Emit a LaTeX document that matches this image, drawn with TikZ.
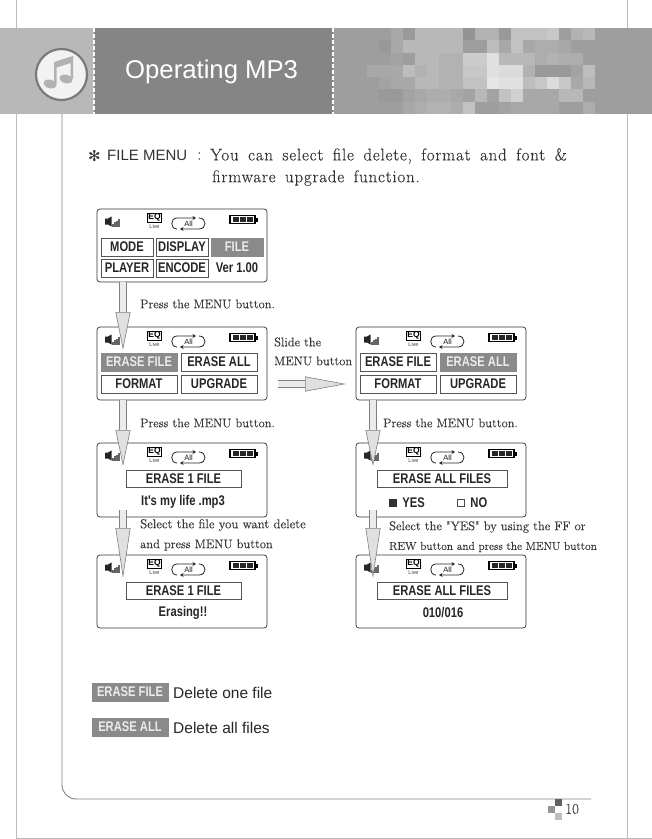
\documentclass[tikz,border=0pt]{standalone}
\usepackage{xcolor}
\usepackage{fontspec}
\setsansfont{Liberation Sans}
\newfontfamily\lcdfont[FakeStretch=0.8]{Liberation Sans}
\newfontfamily\hintfont[FakeBold=0.15]{Latin Modern Roman}
\newfontfamily\introfont[LetterSpace=4.5,WordSpace=1.6,FakeBold=0.15]{Latin Modern Roman}
\newfontfamily\symfont{DejaVu Sans}
\definecolor{lcdline}{HTML}{333333}
\definecolor{lcdbtnline}{HTML}{555555}
\definecolor{lcdsel}{HTML}{8A8A8A}
\definecolor{pageline}{HTML}{BBBBBB}
\usetikzlibrary{arrows.meta,positioning}
\tikzset{
  lcdscreen/.style={draw=lcdline,line width=.7pt,rounded corners=3pt,fill=white,inner sep=0pt,outer sep=0pt,minimum width=170pt,minimum height=73pt},
  lcdbtn/.style={draw=lcdbtnline,line width=.8pt,inner sep=0pt,outer sep=0pt,minimum width=52pt,minimum height=18pt,text=black!85,font=\lcdfont\bfseries\fontsize{14}{14}\selectfont},
  lcdwide/.style={lcdbtn,minimum width=76pt},
  lcdbar/.style={lcdbtn,minimum width=115pt,minimum height=17pt},
  lcdselected/.style={fill=lcdsel,draw=lcdsel,text=white!92!black},
  lcdtext/.style={inner sep=0pt,text=black!85,font=\lcdfont\bfseries\fontsize{14}{14}\selectfont},
  hintlabel/.style={inner sep=0pt,anchor=west,text=black!78,font=\hintfont\fontsize{12.5}{12.5}\selectfont},
  introlabel/.style={inner sep=0pt,anchor=west,text=black!80,font=\introfont\fontsize{17}{17}\selectfont},
  lcdflow/.style={double=black!8,double distance=6pt,draw=black!50,line width=.6pt,-{Triangle[open,length=#1,width=15pt,fill=black!12]}},
  lcdflow/.default=38pt,
  lcdstatus/.pic={
    % speaker and level bars
    \fill[black!85] (8,9.5) -- (11,9.5) -- (14.5,7.5) -- (14.5,17.5) -- (11,15.5) -- (8,15.5) -- cycle;
    \foreach \barx/\bartop in {16/14.5,18/13,20/11.5,22/10}
      \draw[black!60,line width=1.3pt] (\barx,17.5) -- (\barx,\bartop);
    % equalizer sign
    \node[draw=black,line width=.7pt,inner sep=.6pt,font=\sffamily\bfseries\fontsize{8.5}{8.5}\selectfont] (-eq) at (57.5,8.5) {EQ};
    \node[inner sep=0pt,text=black!75,font=\sffamily\fontsize{5.5}{5.5}\selectfont] (-live) at (57.5,18) {Live};
    % repeat loop
    \draw[black!85,line width=.8pt,-{Stealth[length=3.5pt,width=4pt]}] (80,20) .. controls (73,20) and (73,9) .. (80,9) -- (99,9);
    \draw[black!85,line width=.8pt,-{Stealth[length=3.5pt,width=4pt]}] (102,9) .. controls (110,9) and (110,20) .. (102,20) -- (83,20);
    \node[inner sep=0pt,text=black!90,font=\sffamily\fontsize{7.5}{7.5}\selectfont] (-loop) at (91.5,14.5) {All};
    % battery
    \draw[black,line width=1.4pt,fill=white] (133,6.5) rectangle (158,14.5);
    \fill[black] (158,8.5) rectangle (161,12.5);
    \foreach \cellx in {135.5,142.5,149.5}
      \fill[black!85] (\cellx,8) rectangle ++(6,5);
  }
}

\begin{document}
\begin{tikzpicture}[x=1pt,y=-1pt]
\useasboundingbox (0,0) rectangle (652,839);
\fill[white] (0,0) rectangle (652,839);
% page frame
\draw[pageline,line width=1pt] (16,0) -- (16,838) -- (652,838);
\draw[pageline,line width=1pt] (627,0) -- (627,838);
\draw[black!50,line width=.9pt,rounded corners=14pt] (62,110) -- (62,799) -- (591,799);
% title band
\fill[black!28] (0,28) rectangle (94,114);
\fill[black!48] (94,28) rectangle (333,114);
\fill[black!38] (333,28) rectangle (652,114);
\foreach \rowvals [count=\r from 0] in {
  {62,62,62,66,60,72,72,72,72,58,70,70,60,76,76,76,78,62,70,72,62},
  {62,62,60,66,72,72,72,72,72,62,62,74,66,76,66,68,68,66,62,62,62},
  {62,62,62,64,62,72,72,70,70,80,80,88,72,72,72,68,70,68,68,62,62},
  {62,66,66,66,74,70,72,70,70,78,78,88,86,86,70,60,60,60,64,74,62},
  {62,62,64,66,66,72,72,70,70,76,76,90,88,88,74,78,86,78,66,72,62},
  {62,62,60,60,64,66,68,68,66,64,72,64,76,82,66,66,66,72,72,62,62},
  {62,62,62,62,66,68,70,70,68,76,62,62,64,66,66,66,66,62,62,68,62}}
  \foreach \g [count=\c from 0] in \rowvals
    \fill[white!\g!black] ({355+12*\c},{28+12.28*\r}) rectangle ++(12.2,12.28);
\draw[white,line width=1.2pt,dash pattern=on 4pt off 2pt] (94,28) -- (94,114);
\draw[white,line width=1.2pt,dash pattern=on 4pt off 2pt] (333,28) -- (333,114);
% music sign
\draw[black!52,line width=2.2pt,fill=black!5] (61.5,74.5) circle (25.5);
\fill[black!30,rotate around={-15:(50,84)}] (50,84) ellipse (6.5 and 4.3);
\fill[black!30,rotate around={-15:(66,79)}] (66,79) ellipse (6.5 and 4.3);
\fill[black!30] (54,84) -- (54,62) -- (73,56) -- (73,79) -- (70.5,79) -- (70.5,63) -- (56.5,67.5) -- (56.5,84) -- cycle;
\node[inner sep=0pt,anchor=west,text=white,font=\sffamily\fontsize{25.7}{25.7}\selectfont] (title) at (125,72) {Operating MP3};
% heading
\node[inner sep=0pt,anchor=west,text=black!80,font=\symfont\fontsize{15}{15}\selectfont] (star) at (88,156) {✻};
\node[inner sep=0pt,anchor=west,text=black!80,font=\sffamily\fontsize{15}{15}\selectfont] (fmenu) at (107,155) {FILE MENU};
\node[introlabel] (colon) at (197,156) {:};
\node[introlabel] (intro) at (210,156) {You can select file delete, format and font \&};
\node[introlabel] (introb) at (212,178) {firmware upgrade function.};
% screens, left column
\node[lcdscreen,anchor=north west] (scrMenu) at (97,209) {};
\node[lcdscreen,below=45pt of scrMenu] (scrErase) {};
\node[lcdscreen,below=43pt of scrErase,minimum height=74pt] (scrOne) {};
\node[lcdscreen,below=38pt of scrOne] (scrOneBusy) {};
% screens, right column
\node[lcdscreen,right=89pt of scrErase] (scrAll) {};
\node[lcdscreen,right=89pt of scrOne,minimum height=74pt] (scrAsk) {};
\node[lcdscreen,right=89pt of scrOneBusy] (scrAllBusy) {};
\foreach \scr in {scrMenu,scrErase,scrOne,scrOneBusy,scrAll,scrAsk,scrAllBusy}
  \pic (\scr) at (\scr.north west) {lcdstatus};
% main menu
\node[lcdbtn,anchor=north west] (btnMode) at ([shift={(4pt,-29pt)}]scrMenu.north west) {MODE};
\node[lcdbtn,right=3pt of btnMode] (btnDisplay) {DISPLAY};
\node[lcdbtn,lcdselected,right=3pt of btnDisplay] (btnFile) {FILE};
\node[lcdbtn,below=3pt of btnMode] (btnPlayer) {PLAYER};
\node[lcdbtn,below=3pt of btnDisplay] (btnEncode) {ENCODE};
\node[lcdbtn,draw=none,below=3pt of btnFile] (btnVer) {Ver 1.00};
% file menu
\node[lcdwide,lcdselected,anchor=north west] (btnEraseFile) at ([shift={(4pt,-26pt)}]scrErase.north west) {ERASE FILE};
\node[lcdwide,right=4pt of btnEraseFile] (btnEraseAll) {ERASE ALL};
\node[lcdwide,below=4pt of btnEraseFile] (btnFormat) {FORMAT};
\node[lcdwide,below=4pt of btnEraseAll] (btnUpgrade) {UPGRADE};
\node[lcdwide,anchor=north west] (btnEraseFileB) at ([shift={(4pt,-26pt)}]scrAll.north west) {ERASE FILE};
\node[lcdwide,lcdselected,right=4pt of btnEraseFileB] (btnEraseAllB) {ERASE ALL};
\node[lcdwide,below=4pt of btnEraseFileB] (btnFormatB) {FORMAT};
\node[lcdwide,below=4pt of btnEraseAllB] (btnUpgradeB) {UPGRADE};
% erase screens
\node[lcdbar,anchor=north west] (barOne) at ([shift={(29pt,-27pt)}]scrOne.north west) {ERASE 1 FILE};
\node[lcdtext] (txtSong) at ([shift={(86pt,-59pt)}]scrOne.north west) {It's my life .mp3};
\node[lcdbar,anchor=north west] (barOneB) at ([shift={(29pt,-27pt)}]scrOneBusy.north west) {ERASE 1 FILE};
\node[lcdtext] (txtBusy) at ([shift={(86pt,-58pt)}]scrOneBusy.north west) {Erasing!!};
\node[lcdbar,minimum width=130pt,anchor=north west] (barAll) at ([shift={(21pt,-27pt)}]scrAsk.north west) {ERASE ALL FILES};
\node[lcdbar,minimum width=130pt,anchor=north west] (barAllB) at ([shift={(21pt,-27pt)}]scrAllBusy.north west) {ERASE ALL FILES};
\node[draw=black!80,fill=black!80,inner sep=0pt,minimum size=7pt] (boxYes) at ([shift={(36.5pt,-60pt)}]scrAsk.north west) {};
\node[lcdtext,right=6pt of boxYes] (txtYes) {YES};
\node[draw=black!70,fill=white,line width=.5pt,inner sep=0pt,minimum size=7pt] (boxNo) at ([shift={(104.5pt,-60pt)}]scrAsk.north west) {};
\node[lcdtext,right=6pt of boxNo] (txtNo) {NO};
\node[lcdtext] (txtCount) at ([shift={(87pt,-58pt)}]scrAllBusy.north west) {010/016};
% flow arrows
\draw[lcdflow] ([xshift=26pt]scrMenu.south west) -- ([shift={(26pt,-23pt)}]scrErase.north west);
\draw[lcdflow=36pt] ([xshift=26pt]scrErase.south west) -- ([shift={(26pt,-23pt)}]scrOne.north west);
\draw[lcdflow=50pt] ([shift={(26pt,7pt)}]scrOne.south west) -- ([shift={(26pt,-23pt)}]scrOneBusy.north west);
\draw[lcdflow=36pt] ([xshift=17pt]scrAll.south west) -- ([shift={(17pt,-23pt)}]scrAsk.north west);
\draw[lcdflow=50pt] ([shift={(17pt,7pt)}]scrAsk.south west) -- ([shift={(17pt,-23pt)}]scrAllBusy.north west);
\coordinate (slideFrom) at (278,384);
\coordinate (slideTo) at (346,384);
\draw[lcdflow=41pt] (slideFrom) -- (slideTo);
% hints
\node[hintlabel] (hintMenu) at (140,304) {Press the MENU button.};
\node[hintlabel] (hintSlide) at (274,342) {Slide the};
\node[hintlabel] (hintSlideB) at (274,361) {MENU button};
\node[hintlabel] (hintOne) at (140,423) {Press the MENU button.};
\node[hintlabel] (hintAll) at (383,423) {Press the MENU button.};
\node[hintlabel,font=\hintfont\fontsize{12.9}{12.9}\selectfont] (hintSel) at (140,525) {Select the file you want delete};
\node[hintlabel] (hintSelB) at (140,545) {and press MENU button};
\node[hintlabel,font=\hintfont\fontsize{12.6}{12.6}\selectfont] (hintYes) at (389,527) {Select the "YES" by using the FF or};
\node[hintlabel,font=\hintfont\fontsize{11.4}{11.4}\selectfont] (hintYesB) at (389,547) {REW button and press the MENU button};
% legend
\node[lcdwide,lcdselected,anchor=north west] (keyFile) at (92,683) {ERASE FILE};
\node[inner sep=0pt,anchor=west,text=black!85,font=\sffamily\fontsize{15.5}{15.5}\selectfont] (keyFileTxt) at (173,693) {Delete one file};
\node[lcdwide,lcdselected,anchor=north west] (keyAll) at (92,718) {ERASE ALL};
\node[inner sep=0pt,anchor=west,text=black!85,font=\sffamily\fontsize{15.5}{15.5}\selectfont] (keyAllTxt) at (173,728) {Delete all files};
% page number
\fill[black!62] (555,799) rectangle ++(7,7);
\fill[black!42] (548,806) rectangle ++(7,7);
\fill[black!25] (555,813) rectangle ++(7,7);
\node[inner sep=0pt,anchor=west,text=black!75,font=\hintfont\fontsize{15}{15}\selectfont] (pageNo) at (565,809) {10};
\end{tikzpicture}
\end{document}
